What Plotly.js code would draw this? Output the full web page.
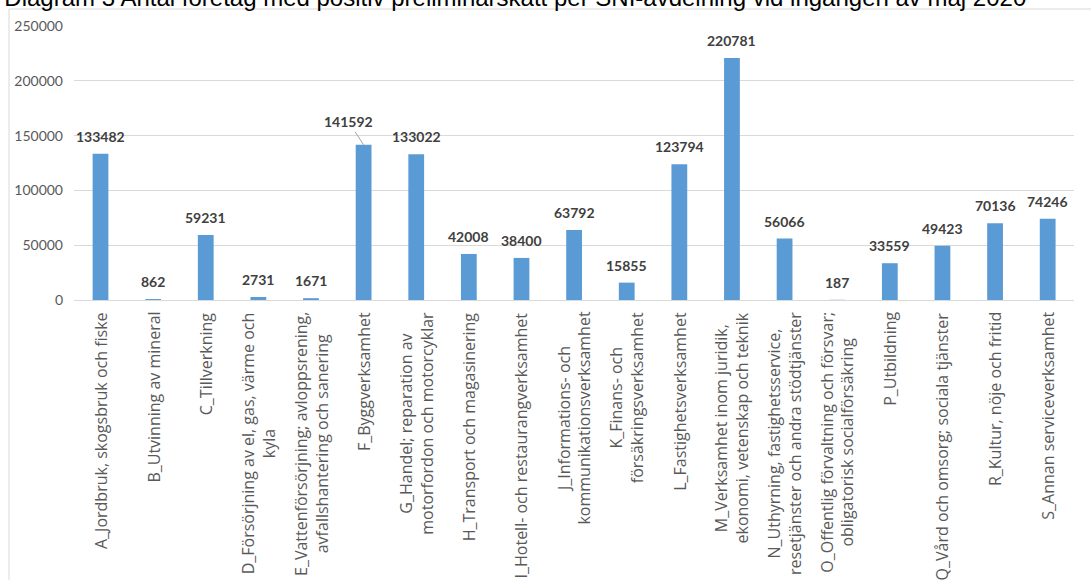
<!DOCTYPE html>
<html>
<head>
<meta charset="utf-8">
<script src="https://cdn.plot.ly/plotly-3.0.1.min.js"></script>
<style>
  html, body { margin: 0; padding: 0; background: #ffffff; }
  #chart { width: 1091px; height: 580px; }
</style>
</head>
<body>
<div id="chart"></div>
<script>
// ---- Data ----
const titleText = "Diagram 3 Antal företag med positiv preliminärskatt per SNI-avdelning vid ingången av maj 2020";

const categories = [
  "A_Jordbruk, skogsbruk och fiske",
  "B_Utvinning av mineral",
  "C_Tillverkning",
  "D_Försörjning av el, gas, värme och<br>kyla",
  "E_Vattenförsörjning; avloppsrening,<br>avfallshantering och sanering",
  "F_Byggverksamhet",
  "G_Handel; reparation av<br>motorfordon och motorcyklar",
  "H_Transport och magasinering",
  "I_Hotell- och restaurangverksamhet",
  "J_Informations- och<br>kommunikationsverksamhet",
  "K_Finans- och<br>försäkringsverksamhet",
  "L_Fastighetsverksamhet",
  "M_Verksamhet inom juridik,<br>ekonomi, vetenskap och teknik",
  "N_Uthyrning, fastighetsservice,<br>resetjänster och andra stödtjänster",
  "O_Offentlig förvaltning och försvar;<br>obligatorisk socialförsäkring",
  "P_Utbildning",
  "Q_Vård och omsorg; sociala tjänster",
  "R_Kultur, nöje och fritid",
  "S_Annan serviceverksamhet"
];

const values = [133482, 862, 59231, 2731, 1671, 141592, 133022, 42008, 38400,
                63792, 15855, 123794, 220781, 56066, 187, 33559, 49423, 70136, 74246];

const yTickVals = [0, 50000, 100000, 150000, 200000, 250000];
const yTickText = ["0", "50000", "100000", "150000", "200000", "250000"];

// Label with a leader line (index of category)
const leaderIndex = 5;

// ---- Styles ----
const barColor = "#5B9BD5";
const gridColor = "#D9D9D9";
const tickColor = "#595959";
const labelColor = "#404040";
const font = "Lato, 'Open Sans', sans-serif";
const catFont = "'Open Sans', Lato, sans-serif";

// ---- Annotations built from data ----
const annotations = [];

// value labels
categories.forEach((c, i) => {
  if (i === leaderIndex) {
    annotations.push({
      x: c, y: values[i], xref: "x", yref: "y",
      text: String(values[i]),
      showarrow: true, arrowhead: 0, arrowwidth: 1, arrowcolor: "#A6A6A6",
      ax: -15, ay: -23, standoff: 0,
      font: {family: font, size: 14, color: labelColor, weight: "bold"}
    });
  } else {
    annotations.push({
      x: c, y: values[i], xref: "x", yref: "y",
      text: String(values[i]),
      showarrow: false, yanchor: "bottom", xanchor: "center", yshift: 7,
      font: {family: font, size: 14, color: labelColor, weight: "bold"}
    });
  }
});

// category labels (rotated, centered lines)
categories.forEach((c) => {
  annotations.push({
    x: c, y: 0, xref: "x", yref: "y",
    text: c,
    showarrow: false, textangle: -90, align: "center",
    yanchor: "top", xanchor: "center", yshift: -10,
    font: {family: catFont, size: 16, color: tickColor}
  });
});

// ---- Trace ----
const trace = {
  type: "bar",
  x: categories,
  y: values,
  marker: {color: barColor},
  hoverinfo: "x+y"
};

// ---- Layout ----
const layout = {
  width: 1091,
  height: 580,
  margin: {l: 74, r: 17, t: 26, b: 280, pad: 0},
  paper_bgcolor: "#ffffff",
  plot_bgcolor: "#ffffff",
  showlegend: false,
  bargap: 0.7,
  title: {
    text: titleText,
    font: {family: "'Liberation Sans', Arial, sans-serif", size: 24, color: "#000000"},
    xref: "container", yref: "container",
    x: 0.004, xanchor: "left",
    y: 0.990, yanchor: "bottom"
  },
  xaxis: {
    type: "category",
    showticklabels: false,
    showgrid: false,
    zeroline: false,
    showline: false,
    ticks: ""
  },
  yaxis: {
    range: [0, 250000],
    tickvals: yTickVals,
    ticktext: yTickText,
    showgrid: true,
    gridcolor: gridColor,
    gridwidth: 1,
    zeroline: true,
    zerolinecolor: gridColor,
    zerolinewidth: 1,
    showline: false,
    ticks: "",
    ticklabelstandoff: 10,
    tickfont: {family: font, size: 14, color: tickColor}
  },
  annotations: annotations,
  shapes: [{
    type: "rect",
    xref: "paper", yref: "paper",
    x0: (9 - 74) / 1000, x1: (1100 - 74) / 1000,
    y0: (300 - 590) / 274, y1: (300 - 9) / 274,
    line: {color: gridColor, width: 1},
    fillcolor: "rgba(0,0,0,0)",
    layer: "below"
  }]
};

Plotly.newPlot("chart", [trace], layout, {displayModeBar: false, staticPlot: true});
</script>
</body>
</html>
